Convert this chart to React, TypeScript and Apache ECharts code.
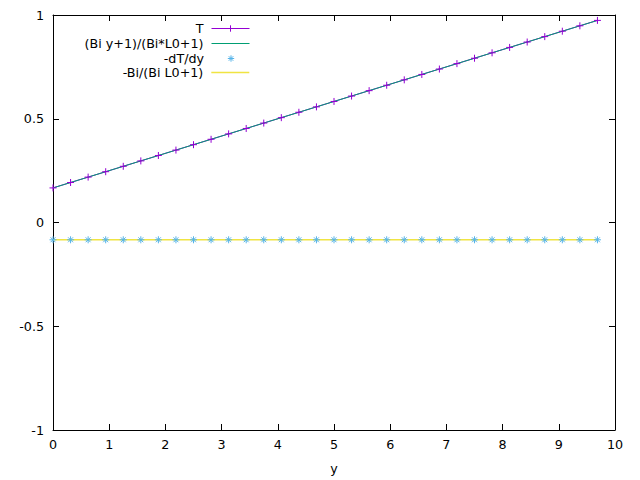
import { useEffect, useRef } from "react";
import * as echarts from "echarts";

// 数据点 y (步长约 0.3125)
const Y_VALUES = [
  0, 0.3125, 0.625, 0.9375, 1.25, 1.5625, 1.875, 2.1875, 2.5, 2.8125, 3.125, 3.4375, 3.75, 4.0625, 4.375, 4.6875,
  5, 5.3125, 5.625, 5.9375, 6.25, 6.5625, 6.875, 7.1875, 7.5, 7.8125, 8.125, 8.4375, 8.75, 9.0625, 9.375, 9.6875,
];
// T 数值解
const T_VALUES = [
  0.1667, 0.1927, 0.2188, 0.2448, 0.2708, 0.2969, 0.3229, 0.349, 0.375, 0.401, 0.4271, 0.4531, 0.4792, 0.5052, 0.5313, 0.5573,
  0.5833, 0.6094, 0.6354, 0.6615, 0.6875, 0.7135, 0.7396, 0.7656, 0.7917, 0.8177, 0.8438, 0.8698, 0.8958, 0.9219, 0.9479, 0.974,
];
// -dT/dy
const DTDY_VALUES = [
  -0.0833, -0.0833, -0.0833, -0.0833, -0.0833, -0.0833, -0.0833, -0.0833, -0.0833, -0.0833, -0.0833, -0.0833, -0.0833, -0.0833, -0.0833, -0.0833,
  -0.0833, -0.0833, -0.0833, -0.0833, -0.0833, -0.0833, -0.0833, -0.0833, -0.0833, -0.0833, -0.0833, -0.0833, -0.0833, -0.0833, -0.0833, -0.0833,
];
// 解析解端点
const EXACT_Y = [0, 9.6875];
const EXACT_T = [0.1667, 0.974];
const EXACT_SLOPE = [-0.0833, -0.0833];

const NAMES = ["T", "(Bi y+1)/(Bi*L0+1)", "-dT/dy", "-Bi/(Bi L0+1)"];
const COLORS = ["#9400d3", "#009e73", "#56b4e9", "#f0e442"];
const X_TICKS = { min: 0, max: 10, interval: 1 };
const Y_TICKS = { min: -1, max: 1, interval: 0.5 };

const FONT = "DejaVu Sans";
const FS = 12.7;
const CROSS = "path://M0,-1L0,1M-1,0L1,0";
const STAR = "path://M0,-1L0,1M-1,0L1,0M-0.7,-0.7L0.7,0.7M-0.7,0.7L0.7,-0.7";

const pairs = (xs: number[], ys: number[]) => xs.map((x, i) => [x, ys[i]]);

export default function App() {
  const ref = useRef<HTMLDivElement>(null);

  useEffect(() => {
    if (!ref.current) return;
    const inst = echarts.init(ref.current, undefined, { renderer: "svg" });

    const tick = { show: true, inside: true, length: 6, lineStyle: { color: "#000", width: 1 } };
    const line = { show: true, onZero: false, lineStyle: { color: "#000", width: 1 } };
    const label = { color: "#000", fontFamily: FONT, fontSize: FS };
    const legendRows = [22, 37, 52, 66];
    // 图例样本: 线 / 点 是否显示
    const legendItems = [
      { name: NAMES[0], lineStyle: { width: 1, color: COLORS[0] }, itemStyle: { color: "none", borderColor: COLORS[0], borderWidth: 1, opacity: 1 } },
      { name: NAMES[1], lineStyle: { width: 1, color: COLORS[1] }, itemStyle: { opacity: 0, borderWidth: 0 } },
      { name: NAMES[2], lineStyle: { width: 0, opacity: 0 }, itemStyle: { color: "none", borderColor: COLORS[2], borderWidth: 1, opacity: 1 } },
      { name: NAMES[3], lineStyle: { width: 1.4, color: COLORS[3] }, itemStyle: { opacity: 0, borderWidth: 0 } },
    ];

    inst.setOption({
      animation: false,
      backgroundColor: "#fff",
      textStyle: { fontFamily: FONT },
      grid: { left: 53, right: 25, top: 15, bottom: 49 },
      legend: legendItems.map((d, i) => ({
        data: [d],
        orient: "vertical",
        align: "right",
        right: 390,
        top: legendRows[i],
        padding: 0,
        itemWidth: 38,
        itemHeight: 8,
        selectedMode: false,
        textStyle: { ...label, padding: [0, 3, 0, 0] },
      })),
      xAxis: [
        {
          type: "value", ...X_TICKS, position: "bottom",
          axisLine: line, axisTick: tick,
          axisLabel: { ...label, margin: 8 },
          splitLine: { show: false },
          name: "y", nameLocation: "middle", nameGap: 32,
          nameTextStyle: label,
        },
        {
          type: "value", ...X_TICKS, position: "top",
          axisLine: line, axisTick: tick,
          axisLabel: { show: false }, splitLine: { show: false },
        },
      ],
      yAxis: [
        {
          type: "value", ...Y_TICKS, position: "left",
          axisLine: line, axisTick: tick,
          axisLabel: { ...label, margin: 9 },
          splitLine: { show: false },
        },
        {
          type: "value", ...Y_TICKS, position: "right",
          axisLine: line, axisTick: tick,
          axisLabel: { show: false }, splitLine: { show: false },
        },
      ],
      series: [
        {
          name: NAMES[0], type: "line", data: pairs(Y_VALUES, T_VALUES),
          symbol: CROSS, symbolSize: 7, showSymbol: true,
          lineStyle: { color: COLORS[0], width: 1 },
          itemStyle: { color: "none", borderColor: COLORS[0], borderWidth: 1 },
        },
        {
          name: NAMES[1], type: "line", data: pairs(EXACT_Y, EXACT_T),
          symbol: "none",
          lineStyle: { color: COLORS[1], width: 1 },
          itemStyle: { color: COLORS[1] },
        },
        {
          name: NAMES[2], type: "line", data: pairs(Y_VALUES, DTDY_VALUES),
          symbol: STAR, symbolSize: 7, showSymbol: true,
          lineStyle: { width: 0, opacity: 0 },
          itemStyle: { color: "none", borderColor: COLORS[2], borderWidth: 1 },
        },
        {
          name: NAMES[3], type: "line", data: pairs(EXACT_Y, EXACT_SLOPE),
          symbol: "none",
          lineStyle: { color: COLORS[3], width: 1.4 },
          itemStyle: { color: COLORS[3] },
        },
      ],
    });

    return () => inst.dispose();
  }, []);

  return <div ref={ref} style={{ position: "absolute", left: 0, top: 0, width: 640, height: 480 }} />;
}
